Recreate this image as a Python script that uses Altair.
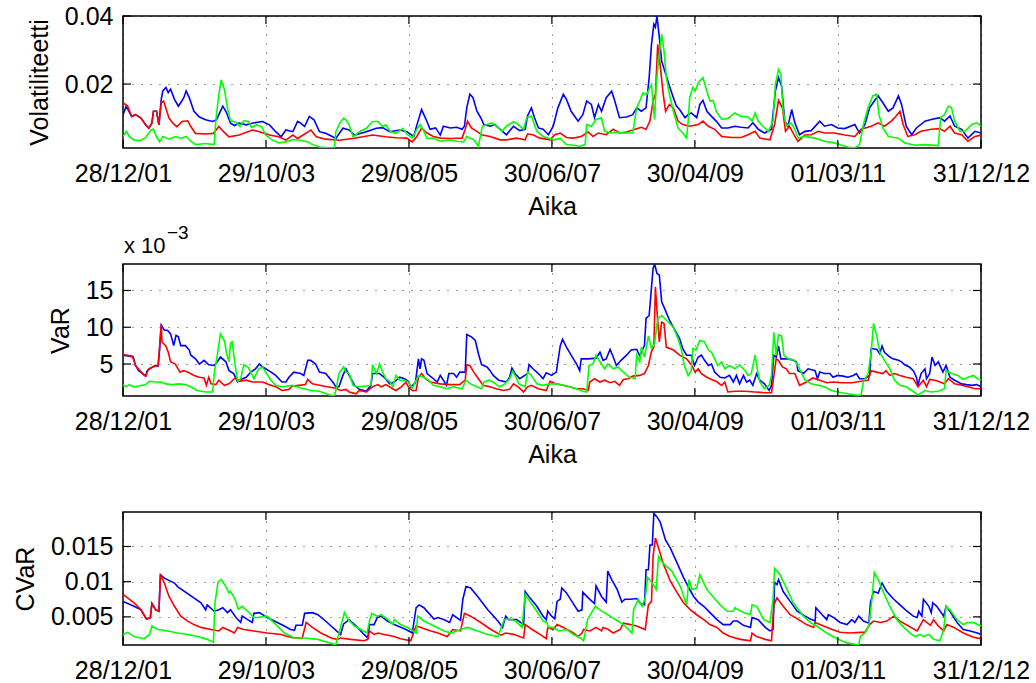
import altair as alt
import pandas as pd

FONT = "Liberation Sans"

# ---------------------------------------------------------------------------
# Series as (decimal year, value) breakpoints.
# Volatility (daily), VaR (in units of 1e-3) and CVaR for three estimators.
# ---------------------------------------------------------------------------
vol_blue = [
    (2001.99, 0.0110), (2002.03, 0.0135), (2002.10, 0.0105), (2002.15, 0.0110), (2002.22, 0.0100),
    (2002.28, 0.0080), (2002.32, 0.0070), (2002.36, 0.0085), (2002.38, 0.0120), (2002.42, 0.0120),
    (2002.45, 0.0080), (2002.48, 0.0155), (2002.50, 0.0180), (2002.54, 0.0190), (2002.57, 0.0175),
    (2002.60, 0.0185), (2002.65, 0.0155), (2002.70, 0.0135), (2002.73, 0.0145), (2002.77, 0.0160),
    (2002.80, 0.0180), (2002.84, 0.0160), (2002.90, 0.0120), (2002.97, 0.0103), (2003.05, 0.0095),
    (2003.14, 0.0090), (2003.19, 0.0095), (2003.22, 0.0110), (2003.27, 0.0135), (2003.31, 0.0120),
    (2003.37, 0.0085), (2003.42, 0.0078), (2003.48, 0.0085), (2003.57, 0.0080), (2003.65, 0.0085),
    (2003.78, 0.0090), (2003.87, 0.0080), (2003.95, 0.0060), (2004.02, 0.0045), (2004.08, 0.0065),
    (2004.17, 0.0060), (2004.23, 0.0090), (2004.27, 0.0085), (2004.32, 0.0075), (2004.38, 0.0105),
    (2004.44, 0.0095), (2004.51, 0.0060), (2004.59, 0.0055), (2004.68, 0.0045), (2004.72, 0.0040),
    (2004.81, 0.0070), (2004.89, 0.0065), (2004.96, 0.0050), (2005.11, 0.0060), (2005.24, 0.0070),
    (2005.32, 0.0072), (2005.41, 0.0060), (2005.54, 0.0065), (2005.63, 0.0060), (2005.72, 0.0046),
    (2005.76, 0.0080), (2005.82, 0.0125), (2005.87, 0.0100), (2005.93, 0.0067), (2006.00, 0.0071),
    (2006.06, 0.0050), (2006.10, 0.0076), (2006.19, 0.0071), (2006.27, 0.0073), (2006.34, 0.0067),
    (2006.37, 0.0076), (2006.40, 0.0130), (2006.44, 0.0170), (2006.48, 0.0160), (2006.53, 0.0120),
    (2006.58, 0.0101), (2006.62, 0.0081), (2006.70, 0.0076), (2006.76, 0.0081), (2006.83, 0.0067),
    (2006.91, 0.0051), (2007.00, 0.0076), (2007.08, 0.0063), (2007.15, 0.0067), (2007.18, 0.0106),
    (2007.23, 0.0130), (2007.27, 0.0101), (2007.32, 0.0071), (2007.38, 0.0067), (2007.45, 0.0051),
    (2007.51, 0.0076), (2007.57, 0.0130), (2007.64, 0.0170), (2007.68, 0.0155), (2007.74, 0.0120),
    (2007.83, 0.0091), (2007.89, 0.0110), (2007.94, 0.0150), (2008.00, 0.0140), (2008.04, 0.0101),
    (2008.09, 0.0140), (2008.13, 0.0120), (2008.19, 0.0160), (2008.26, 0.0179), (2008.30, 0.0150),
    (2008.36, 0.0101), (2008.45, 0.0103), (2008.53, 0.0110), (2008.58, 0.0130), (2008.64, 0.0120),
    (2008.70, 0.0130), (2008.74, 0.0219), (2008.77, 0.0317), (2008.80, 0.0376), (2008.82, 0.0367),
    (2008.84, 0.0400), (2008.87, 0.0337), (2008.90, 0.0268), (2008.94, 0.0238), (2009.00, 0.0194),
    (2009.05, 0.0160), (2009.09, 0.0135), (2009.13, 0.0125), (2009.20, 0.0101), (2009.24, 0.0110),
    (2009.28, 0.0115), (2009.35, 0.0101), (2009.39, 0.0140), (2009.43, 0.0152), (2009.48, 0.0120),
    (2009.54, 0.0105), (2009.60, 0.0091), (2009.67, 0.0071), (2009.75, 0.0071), (2009.84, 0.0076),
    (2009.92, 0.0073), (2010.01, 0.0071), (2010.07, 0.0086), (2010.14, 0.0067), (2010.22, 0.0056),
    (2010.31, 0.0067), (2010.36, 0.0179), (2010.40, 0.0219), (2010.44, 0.0194), (2010.48, 0.0091),
    (2010.52, 0.0076), (2010.57, 0.0125), (2010.61, 0.0086), (2010.67, 0.0051), (2010.74, 0.0061),
    (2010.82, 0.0063), (2010.93, 0.0091), (2010.99, 0.0076), (2011.08, 0.0081), (2011.16, 0.0071),
    (2011.25, 0.0069), (2011.38, 0.0081), (2011.44, 0.0056), (2011.51, 0.0081), (2011.57, 0.0130),
    (2011.63, 0.0150), (2011.68, 0.0165), (2011.74, 0.0145), (2011.81, 0.0120), (2011.87, 0.0130),
    (2011.94, 0.0165), (2011.98, 0.0140), (2012.04, 0.0076), (2012.11, 0.0051), (2012.17, 0.0071),
    (2012.28, 0.0091), (2012.36, 0.0096), (2012.47, 0.0101), (2012.53, 0.0091), (2012.60, 0.0106),
    (2012.66, 0.0076), (2012.75, 0.0067), (2012.83, 0.0041), (2012.92, 0.0061), (2013.00, 0.0056),
]

vol_red = [
    (2001.99, 0.0145), (2002.05, 0.0135), (2002.10, 0.0105), (2002.15, 0.0110), (2002.22, 0.0100),
    (2002.28, 0.0080), (2002.32, 0.0070), (2002.36, 0.0085), (2002.38, 0.0120), (2002.42, 0.0120),
    (2002.45, 0.0080), (2002.48, 0.0145), (2002.51, 0.0150), (2002.58, 0.0100), (2002.63, 0.0085),
    (2002.68, 0.0075), (2002.75, 0.0090), (2002.82, 0.0092), (2002.86, 0.0075), (2002.92, 0.0055),
    (2003.05, 0.0053), (2003.15, 0.0055), (2003.22, 0.0075), (2003.28, 0.0060), (2003.35, 0.0045),
    (2003.48, 0.0050), (2003.65, 0.0065), (2003.74, 0.0060), (2003.87, 0.0050), (2003.99, 0.0045),
    (2004.08, 0.0035), (2004.17, 0.0050), (2004.23, 0.0040), (2004.40, 0.0065), (2004.47, 0.0045),
    (2004.59, 0.0038), (2004.76, 0.0035), (2004.94, 0.0040), (2005.19, 0.0050), (2005.36, 0.0045),
    (2005.49, 0.0042), (2005.63, 0.0041), (2005.70, 0.0030), (2005.76, 0.0046), (2005.82, 0.0071),
    (2005.89, 0.0056), (2005.97, 0.0046), (2006.06, 0.0041), (2006.19, 0.0040), (2006.34, 0.0041),
    (2006.38, 0.0067), (2006.41, 0.0091), (2006.46, 0.0071), (2006.53, 0.0061), (2006.59, 0.0051),
    (2006.70, 0.0046), (2006.83, 0.0036), (2006.91, 0.0036), (2007.04, 0.0041), (2007.15, 0.0036),
    (2007.18, 0.0053), (2007.25, 0.0051), (2007.34, 0.0041), (2007.47, 0.0036), (2007.53, 0.0051),
    (2007.60, 0.0056), (2007.68, 0.0043), (2007.77, 0.0041), (2007.87, 0.0046), (2007.96, 0.0059),
    (2008.02, 0.0046), (2008.09, 0.0056), (2008.19, 0.0051), (2008.28, 0.0067), (2008.36, 0.0056),
    (2008.45, 0.0059), (2008.56, 0.0067), (2008.64, 0.0073), (2008.70, 0.0067), (2008.75, 0.0091),
    (2008.79, 0.0150), (2008.82, 0.0170), (2008.85, 0.0317), (2008.88, 0.0258), (2008.92, 0.0170),
    (2008.95, 0.0120), (2009.00, 0.0140), (2009.05, 0.0130), (2009.11, 0.0091), (2009.17, 0.0081),
    (2009.26, 0.0076), (2009.37, 0.0081), (2009.43, 0.0091), (2009.50, 0.0076), (2009.58, 0.0067),
    (2009.67, 0.0046), (2009.80, 0.0043), (2009.92, 0.0043), (2010.01, 0.0051), (2010.10, 0.0061),
    (2010.16, 0.0041), (2010.29, 0.0036), (2010.35, 0.0081), (2010.40, 0.0152), (2010.45, 0.0130),
    (2010.49, 0.0061), (2010.54, 0.0076), (2010.61, 0.0046), (2010.65, 0.0032), (2010.74, 0.0050),
    (2010.82, 0.0051), (2010.91, 0.0061), (2010.99, 0.0056), (2011.12, 0.0056), (2011.25, 0.0050),
    (2011.38, 0.0046), (2011.46, 0.0067), (2011.59, 0.0076), (2011.68, 0.0086), (2011.76, 0.0076),
    (2011.85, 0.0091), (2011.91, 0.0106), (2011.96, 0.0120), (2012.00, 0.0081), (2012.06, 0.0046),
    (2012.15, 0.0051), (2012.23, 0.0061), (2012.36, 0.0067), (2012.47, 0.0069), (2012.53, 0.0061),
    (2012.60, 0.0076), (2012.66, 0.0056), (2012.75, 0.0051), (2012.83, 0.0032), (2012.92, 0.0046),
    (2013.00, 0.0050),
]

vol_green = [
    (2001.99, 0.0046), (2002.03, 0.0061), (2002.07, 0.0046), (2002.13, 0.0035), (2002.22, 0.0035),
    (2002.28, 0.0043), (2002.35, 0.0065), (2002.38, 0.0068), (2002.42, 0.0045), (2002.46, 0.0030),
    (2002.50, 0.0046), (2002.58, 0.0038), (2002.67, 0.0046), (2002.73, 0.0040), (2002.80, 0.0046),
    (2002.86, 0.0032), (2002.92, 0.0022), (2003.05, 0.0025), (2003.16, 0.0022), (2003.18, 0.0090),
    (2003.22, 0.0170), (2003.25, 0.0212), (2003.29, 0.0185), (2003.33, 0.0130), (2003.37, 0.0092),
    (2003.44, 0.0088), (2003.49, 0.0075), (2003.54, 0.0092), (2003.60, 0.0090), (2003.64, 0.0072),
    (2003.70, 0.0080), (2003.77, 0.0075), (2003.82, 0.0050), (2003.91, 0.0035), (2003.99, 0.0027),
    (2004.08, 0.0030), (2004.17, 0.0037), (2004.27, 0.0035), (2004.36, 0.0030), (2004.42, 0.0022),
    (2004.51, 0.0015), (2004.64, 0.0012), (2004.70, 0.0012), (2004.72, 0.0060), (2004.77, 0.0085),
    (2004.82, 0.0100), (2004.85, 0.0095), (2004.89, 0.0080), (2004.94, 0.0045), (2005.02, 0.0060),
    (2005.11, 0.0070), (2005.19, 0.0090), (2005.26, 0.0090), (2005.32, 0.0075), (2005.36, 0.0080),
    (2005.42, 0.0060), (2005.49, 0.0055), (2005.58, 0.0070), (2005.63, 0.0053), (2005.70, 0.0041),
    (2005.76, 0.0067), (2005.80, 0.0081), (2005.85, 0.0061), (2005.89, 0.0040), (2005.97, 0.0041),
    (2006.06, 0.0032), (2006.19, 0.0036), (2006.27, 0.0032), (2006.36, 0.0030), (2006.40, 0.0046),
    (2006.49, 0.0036), (2006.55, 0.0017), (2006.60, 0.0076), (2006.66, 0.0081), (2006.72, 0.0086),
    (2006.78, 0.0076), (2006.85, 0.0061), (2006.91, 0.0076), (2007.00, 0.0089), (2007.06, 0.0081),
    (2007.13, 0.0067), (2007.17, 0.0101), (2007.23, 0.0106), (2007.30, 0.0061), (2007.38, 0.0046),
    (2007.51, 0.0036), (2007.60, 0.0040), (2007.68, 0.0022), (2007.77, 0.0020), (2007.85, 0.0017),
    (2007.92, 0.0022), (2007.94, 0.0081), (2008.00, 0.0076), (2008.06, 0.0096), (2008.13, 0.0101),
    (2008.17, 0.0061), (2008.24, 0.0056), (2008.34, 0.0059), (2008.41, 0.0056), (2008.53, 0.0056),
    (2008.58, 0.0130), (2008.62, 0.0150), (2008.66, 0.0174), (2008.71, 0.0170), (2008.77, 0.0199),
    (2008.80, 0.0120), (2008.81, 0.0096), (2008.83, 0.0199), (2008.87, 0.0288), (2008.90, 0.0347),
    (2008.93, 0.0298), (2008.96, 0.0219), (2009.00, 0.0170), (2009.05, 0.0120), (2009.11, 0.0071),
    (2009.17, 0.0056), (2009.22, 0.0041), (2009.24, 0.0091), (2009.26, 0.0160), (2009.30, 0.0190),
    (2009.33, 0.0179), (2009.37, 0.0204), (2009.43, 0.0219), (2009.48, 0.0179), (2009.52, 0.0150),
    (2009.56, 0.0152), (2009.60, 0.0120), (2009.67, 0.0096), (2009.75, 0.0099), (2009.84, 0.0115),
    (2009.92, 0.0105), (2010.01, 0.0103), (2010.06, 0.0091), (2010.10, 0.0115), (2010.14, 0.0091),
    (2010.20, 0.0076), (2010.27, 0.0061), (2010.33, 0.0091), (2010.36, 0.0199), (2010.40, 0.0243),
    (2010.43, 0.0229), (2010.46, 0.0120), (2010.50, 0.0076), (2010.56, 0.0086), (2010.61, 0.0067),
    (2010.65, 0.0041), (2010.74, 0.0046), (2010.87, 0.0041), (2010.99, 0.0032), (2011.12, 0.0027),
    (2011.21, 0.0020), (2011.29, 0.0015), (2011.38, 0.0012), (2011.44, 0.0022), (2011.49, 0.0081),
    (2011.55, 0.0130), (2011.61, 0.0165), (2011.66, 0.0170), (2011.69, 0.0110), (2011.74, 0.0071),
    (2011.81, 0.0046), (2011.94, 0.0041), (2012.02, 0.0027), (2012.15, 0.0020), (2012.28, 0.0022),
    (2012.45, 0.0019), (2012.48, 0.0101), (2012.53, 0.0110), (2012.58, 0.0135), (2012.62, 0.0130),
    (2012.66, 0.0091), (2012.73, 0.0061), (2012.79, 0.0061), (2012.88, 0.0081), (2012.94, 0.0086),
    (2013.00, 0.0076),
]

# VaR values are given in units of 10^-3
var_blue = [
    (2001.99, 6.2), (2002.07, 6.05), (2002.12, 5.95), (2002.15, 4.8), (2002.19, 4.1), (2002.24, 3.7),
    (2002.28, 3.35), (2002.30, 4.1), (2002.37, 4.6), (2002.41, 4.8), (2002.44, 4.7), (2002.46, 7.1),
    (2002.48, 10.3), (2002.52, 9.6), (2002.56, 9.6), (2002.60, 9.1), (2002.64, 7.5), (2002.67, 8.9),
    (2002.70, 8.7), (2002.73, 7.5), (2002.79, 7.5), (2002.84, 6.9), (2002.86, 6.2), (2002.92, 5.7),
    (2002.97, 5.0), (2003.03, 5.5), (2003.09, 4.9), (2003.16, 4.8), (2003.20, 5.3), (2003.24, 5.95),
    (2003.31, 5.3), (2003.35, 4.1), (2003.41, 3.7), (2003.46, 2.55), (2003.50, 2.9), (2003.57, 3.2),
    (2003.63, 3.9), (2003.69, 4.35), (2003.74, 5.0), (2003.78, 4.6), (2003.82, 4.35), (2003.89, 3.9),
    (2003.95, 3.45), (2004.03, 2.55), (2004.08, 2.55), (2004.12, 3.2), (2004.18, 3.9), (2004.27, 3.7),
    (2004.31, 3.45), (2004.36, 5.5), (2004.40, 5.5), (2004.46, 5.0), (2004.51, 3.9), (2004.59, 3.7),
    (2004.68, 2.55), (2004.72, 1.9), (2004.76, 1.9), (2004.81, 3.45), (2004.85, 4.35), (2004.89, 3.45),
    (2004.96, 2.1), (2005.02, 1.55), (2005.11, 1.3), (2005.17, 2.1), (2005.19, 3.7), (2005.28, 3.7),
    (2005.34, 3.2), (2005.41, 2.3), (2005.47, 2.55), (2005.54, 3.2), (2005.60, 3.0), (2005.65, 2.65),
    (2005.68, 1.9), (2005.74, 2.45), (2005.78, 5.7), (2005.80, 4.35), (2005.82, 5.7), (2005.85, 5.5),
    (2005.89, 3.7), (2005.95, 3.2), (2006.02, 2.55), (2006.06, 3.45), (2006.10, 2.8), (2006.14, 2.1),
    (2006.17, 3.7), (2006.23, 3.7), (2006.27, 3.2), (2006.31, 3.9), (2006.38, 3.9), (2006.40, 9.0),
    (2006.46, 8.7), (2006.51, 8.2), (2006.55, 6.4), (2006.59, 4.9), (2006.66, 4.6), (2006.70, 4.1),
    (2006.74, 3.45), (2006.81, 2.8), (2006.91, 2.55), (2006.95, 3.2), (2006.98, 4.45), (2007.02, 3.7),
    (2007.08, 3.0), (2007.18, 3.7), (2007.20, 4.9), (2007.25, 4.35), (2007.32, 3.7), (2007.38, 3.0),
    (2007.42, 3.8), (2007.49, 3.45), (2007.55, 3.9), (2007.60, 7.45), (2007.63, 8.35), (2007.68, 7.3),
    (2007.74, 6.2), (2007.81, 5.0), (2007.85, 4.1), (2007.87, 5.7), (2007.96, 5.7), (2008.06, 5.8),
    (2008.11, 6.6), (2008.15, 5.5), (2008.19, 5.7), (2008.24, 7.0), (2008.28, 5.95), (2008.32, 4.8),
    (2008.38, 5.5), (2008.45, 6.2), (2008.51, 6.9), (2008.58, 7.0), (2008.62, 6.1), (2008.68, 7.55),
    (2008.70, 11.2), (2008.74, 11.6), (2008.79, 18.0), (2008.81, 18.6), (2008.84, 17.3), (2008.87, 17.1),
    (2008.90, 13.45), (2008.94, 12.5), (2009.00, 10.95), (2009.07, 9.6), (2009.13, 8.45), (2009.17, 7.1),
    (2009.22, 6.2), (2009.28, 6.2), (2009.32, 4.8), (2009.37, 5.95), (2009.41, 6.2), (2009.45, 5.5),
    (2009.50, 4.8), (2009.54, 5.0), (2009.58, 3.9), (2009.65, 3.2), (2009.71, 3.1), (2009.77, 3.45),
    (2009.82, 2.55), (2009.86, 3.45), (2009.90, 2.3), (2009.95, 3.45), (2009.99, 2.55), (2010.03, 2.8),
    (2010.07, 2.1), (2010.12, 3.7), (2010.16, 2.8), (2010.22, 2.3), (2010.28, 1.4), (2010.31, 2.1),
    (2010.34, 6.2), (2010.37, 5.95), (2010.40, 7.45), (2010.43, 5.7), (2010.50, 5.7), (2010.57, 5.6),
    (2010.63, 5.3), (2010.65, 4.1), (2010.72, 3.7), (2010.78, 4.35), (2010.87, 4.1), (2010.90, 3.0),
    (2010.93, 3.9), (2010.99, 3.7), (2011.06, 3.7), (2011.10, 3.2), (2011.16, 3.45), (2011.23, 3.35),
    (2011.29, 3.2), (2011.36, 3.45), (2011.40, 3.7), (2011.44, 3.0), (2011.51, 3.0), (2011.57, 3.45),
    (2011.59, 7.1), (2011.66, 7.0), (2011.70, 6.4), (2011.73, 7.45), (2011.76, 6.6), (2011.83, 5.95),
    (2011.87, 5.7), (2011.94, 5.5), (2011.98, 5.3), (2012.02, 4.9), (2012.08, 4.6), (2012.13, 4.1),
    (2012.17, 3.2), (2012.19, 2.1), (2012.23, 3.7), (2012.28, 4.35), (2012.30, 3.0), (2012.34, 3.7),
    (2012.37, 5.95), (2012.41, 4.8), (2012.45, 5.3), (2012.51, 3.9), (2012.55, 4.8), (2012.60, 3.2),
    (2012.66, 2.8), (2012.75, 2.3), (2012.81, 2.2), (2012.88, 2.1), (2012.94, 2.2), (2013.00, 1.9),
]

var_red = [
    (2001.99, 6.3), (2002.11, 6.05), (2002.15, 4.8), (2002.24, 3.7), (2002.28, 3.35), (2002.32, 4.35),
    (2002.37, 4.6), (2002.44, 4.8), (2002.46, 7.5), (2002.48, 10.4), (2002.49, 8.0), (2002.54, 7.45),
    (2002.57, 6.6), (2002.60, 5.3), (2002.66, 5.0), (2002.72, 3.9), (2002.77, 4.1), (2002.84, 3.8),
    (2002.90, 3.45), (2002.97, 3.2), (2003.03, 3.1), (2003.06, 2.1), (2003.09, 3.2), (2003.12, 2.3),
    (2003.18, 2.2), (2003.22, 2.8), (2003.29, 2.1), (2003.35, 2.3), (2003.44, 3.2), (2003.48, 2.65),
    (2003.57, 2.8), (2003.65, 2.55), (2003.78, 2.55), (2003.86, 2.2), (2003.95, 1.9), (2004.03, 1.4),
    (2004.12, 1.55), (2004.16, 2.0), (2004.25, 2.1), (2004.33, 2.2), (2004.36, 2.9), (2004.42, 2.3),
    (2004.51, 2.1), (2004.61, 1.9), (2004.72, 1.7), (2004.78, 1.4), (2004.85, 1.55), (2004.89, 1.2),
    (2004.98, 0.95), (2005.02, 1.4), (2005.11, 1.2), (2005.19, 1.9), (2005.26, 2.2), (2005.30, 1.9),
    (2005.36, 2.2), (2005.45, 1.64), (2005.49, 1.4), (2005.56, 1.9), (2005.62, 2.55), (2005.65, 1.9),
    (2005.70, 1.4), (2005.75, 1.4), (2005.78, 3.2), (2005.82, 3.7), (2005.87, 3.0), (2005.93, 2.55),
    (2006.06, 2.3), (2006.19, 2.2), (2006.31, 2.2), (2006.38, 2.8), (2006.40, 4.9), (2006.44, 4.8),
    (2006.49, 3.9), (2006.55, 3.0), (2006.61, 2.1), (2006.70, 1.9), (2006.78, 1.64), (2006.87, 1.4),
    (2006.95, 1.55), (2007.00, 2.3), (2007.06, 1.9), (2007.13, 1.2), (2007.18, 1.9), (2007.23, 2.1),
    (2007.32, 1.64), (2007.42, 1.4), (2007.47, 2.65), (2007.55, 2.3), (2007.64, 2.1), (2007.72, 1.9),
    (2007.81, 1.64), (2007.89, 1.64), (2007.96, 1.4), (2007.98, 2.55), (2008.04, 3.0), (2008.11, 2.55),
    (2008.17, 2.8), (2008.24, 2.45), (2008.30, 2.65), (2008.36, 2.1), (2008.41, 2.9), (2008.47, 3.0),
    (2008.53, 3.35), (2008.62, 3.45), (2008.68, 3.7), (2008.73, 4.8), (2008.77, 6.7), (2008.80, 7.3),
    (2008.82, 15.5), (2008.84, 12.3), (2008.87, 8.0), (2008.90, 10.7), (2008.93, 10.5), (2008.96, 7.3),
    (2009.05, 6.9), (2009.13, 6.2), (2009.22, 5.7), (2009.28, 4.9), (2009.33, 3.9), (2009.37, 4.35),
    (2009.41, 3.7), (2009.48, 3.2), (2009.54, 2.9), (2009.60, 2.65), (2009.67, 2.1), (2009.71, 2.55),
    (2009.75, 1.2), (2009.84, 1.3), (2009.97, 1.3), (2010.10, 1.2), (2010.22, 1.1), (2010.31, 1.1),
    (2010.33, 2.55), (2010.37, 5.7), (2010.40, 5.5), (2010.45, 4.6), (2010.50, 4.35), (2010.54, 3.7),
    (2010.61, 3.7), (2010.67, 2.1), (2010.76, 2.55), (2010.84, 3.1), (2010.93, 2.8), (2011.02, 2.45),
    (2011.10, 2.55), (2011.21, 2.45), (2011.34, 2.45), (2011.46, 2.65), (2011.55, 2.8), (2011.59, 4.1),
    (2011.66, 3.9), (2011.74, 3.7), (2011.78, 4.1), (2011.83, 3.45), (2011.89, 3.7), (2011.96, 3.45),
    (2012.04, 3.2), (2012.13, 3.0), (2012.19, 1.9), (2012.26, 2.8), (2012.30, 1.9), (2012.34, 2.9),
    (2012.41, 2.8), (2012.47, 2.55), (2012.53, 2.3), (2012.58, 3.0), (2012.66, 2.3), (2012.75, 2.1),
    (2012.83, 1.9), (2012.92, 1.64), (2013.00, 1.64),
]

var_green = [
    (2001.99, 2.2), (2002.03, 1.9), (2002.07, 2.2), (2002.13, 1.9), (2002.19, 2.0), (2002.28, 2.2),
    (2002.33, 2.65), (2002.41, 2.55), (2002.47, 2.55), (2002.54, 2.3), (2002.62, 2.2), (2002.71, 2.3),
    (2002.79, 2.2), (2002.86, 1.9), (2002.94, 1.4), (2003.05, 1.2), (2003.14, 1.2), (2003.16, 3.7),
    (2003.20, 6.2), (2003.24, 9.1), (2003.29, 8.2), (2003.32, 6.4), (2003.35, 5.3), (2003.37, 7.8),
    (2003.39, 8.0), (2003.43, 4.8), (2003.46, 2.65), (2003.50, 3.0), (2003.54, 4.9), (2003.59, 4.6),
    (2003.63, 3.9), (2003.67, 3.0), (2003.73, 4.35), (2003.78, 4.6), (2003.82, 3.9), (2003.89, 2.8),
    (2003.95, 2.1), (2004.03, 1.9), (2004.16, 2.1), (2004.29, 1.7), (2004.40, 1.4), (2004.51, 1.3),
    (2004.64, 0.8), (2004.70, 0.65), (2004.72, 1.4), (2004.76, 3.7), (2004.82, 4.6), (2004.85, 3.9),
    (2004.89, 3.7), (2004.94, 2.1), (2005.00, 1.9), (2005.11, 2.0), (2005.17, 2.1), (2005.19, 4.9),
    (2005.24, 3.7), (2005.28, 5.0), (2005.32, 3.9), (2005.36, 3.0), (2005.41, 2.65), (2005.45, 1.9),
    (2005.49, 3.45), (2005.54, 2.8), (2005.60, 2.8), (2005.65, 2.55), (2005.70, 1.7), (2005.75, 2.8),
    (2005.78, 3.45), (2005.85, 3.2), (2005.91, 2.8), (2005.97, 2.1), (2006.06, 1.9), (2006.14, 1.64),
    (2006.23, 1.9), (2006.34, 1.64), (2006.39, 2.8), (2006.45, 2.3), (2006.53, 1.9), (2006.59, 1.64),
    (2006.62, 2.55), (2006.68, 2.8), (2006.74, 2.55), (2006.82, 1.9), (2006.89, 2.3), (2006.95, 3.0),
    (2006.99, 4.0), (2007.02, 3.45), (2007.07, 2.3), (2007.15, 1.9), (2007.18, 3.9), (2007.23, 3.45),
    (2007.30, 2.3), (2007.38, 2.1), (2007.47, 2.3), (2007.55, 2.3), (2007.64, 2.1), (2007.72, 1.9),
    (2007.81, 1.64), (2007.89, 1.3), (2007.94, 1.2), (2007.97, 4.8), (2008.02, 5.0), (2008.06, 6.2),
    (2008.11, 5.3), (2008.17, 4.35), (2008.21, 5.0), (2008.28, 4.35), (2008.34, 4.6), (2008.41, 3.9),
    (2008.49, 3.2), (2008.56, 3.0), (2008.58, 6.2), (2008.62, 5.3), (2008.64, 7.3), (2008.68, 5.95),
    (2008.73, 8.8), (2008.77, 7.1), (2008.81, 7.8), (2008.85, 11.2), (2008.90, 11.6), (2008.96, 10.95),
    (2009.05, 10.0), (2009.11, 8.45), (2009.15, 7.1), (2009.19, 4.8), (2009.24, 3.45), (2009.28, 4.1),
    (2009.30, 7.1), (2009.34, 6.9), (2009.39, 8.2), (2009.45, 8.0), (2009.50, 6.9), (2009.54, 6.6),
    (2009.58, 5.7), (2009.62, 4.8), (2009.67, 5.3), (2009.71, 4.35), (2009.77, 4.8), (2009.84, 4.35),
    (2009.90, 4.9), (2009.97, 4.1), (2010.01, 3.45), (2010.05, 3.7), (2010.10, 6.2), (2010.12, 4.8),
    (2010.16, 2.55), (2010.22, 1.64), (2010.28, 2.1), (2010.31, 3.45), (2010.34, 9.3), (2010.37, 6.2),
    (2010.40, 9.0), (2010.44, 8.8), (2010.47, 6.2), (2010.52, 5.7), (2010.61, 5.5), (2010.67, 4.35),
    (2010.74, 2.8), (2010.82, 2.3), (2010.91, 2.1), (2010.99, 1.9), (2011.08, 1.4), (2011.16, 1.2),
    (2011.29, 0.95), (2011.42, 0.73), (2011.46, 0.8), (2011.49, 2.55), (2011.55, 3.7), (2011.59, 6.6),
    (2011.62, 10.5), (2011.66, 8.9), (2011.70, 6.6), (2011.76, 5.5), (2011.83, 4.35), (2011.89, 2.8),
    (2011.96, 2.1), (2012.04, 1.9), (2012.11, 1.4), (2012.19, 0.8), (2012.28, 1.4), (2012.36, 1.2),
    (2012.45, 1.3), (2012.53, 1.64), (2012.55, 4.1), (2012.62, 3.7), (2012.70, 3.45), (2012.77, 2.9),
    (2012.83, 3.2), (2012.90, 3.45), (2012.95, 3.0), (2013.00, 2.85),
]

cvar_blue = [
    (2001.99, 0.0072), (2002.13, 0.0065), (2002.22, 0.0060), (2002.29, 0.0047), (2002.34, 0.0049),
    (2002.36, 0.0069), (2002.41, 0.0060), (2002.45, 0.0058), (2002.47, 0.0110), (2002.52, 0.0105),
    (2002.65, 0.0098), (2002.69, 0.0093), (2002.99, 0.0070), (2003.05, 0.0060), (2003.07, 0.0067),
    (2003.16, 0.0058), (2003.22, 0.0060), (2003.27, 0.0063), (2003.33, 0.0056), (2003.37, 0.0060),
    (2003.44, 0.0049), (2003.50, 0.0042), (2003.52, 0.0051), (2003.59, 0.0046), (2003.65, 0.0042),
    (2003.67, 0.0055), (2003.74, 0.0056), (2003.84, 0.0049), (2003.97, 0.0042), (2004.06, 0.0037),
    (2004.14, 0.0032), (2004.19, 0.0031), (2004.21, 0.0038), (2004.29, 0.0038), (2004.32, 0.0055),
    (2004.42, 0.0056), (2004.49, 0.0053), (2004.61, 0.0042), (2004.76, 0.0027), (2004.78, 0.0025),
    (2004.82, 0.0040), (2004.89, 0.0046), (2004.98, 0.0037), (2005.08, 0.0025), (2005.13, 0.0020),
    (2005.15, 0.0039), (2005.21, 0.0039), (2005.25, 0.0049), (2005.30, 0.0051), (2005.38, 0.0044),
    (2005.49, 0.0038), (2005.62, 0.0032), (2005.70, 0.0027), (2005.75, 0.0063), (2005.79, 0.0067),
    (2005.85, 0.0063), (2005.98, 0.0047), (2006.03, 0.0049), (2006.11, 0.0046), (2006.18, 0.0042),
    (2006.22, 0.0053), (2006.32, 0.0045), (2006.35, 0.0075), (2006.39, 0.0093), (2006.45, 0.0091),
    (2006.54, 0.0079), (2006.67, 0.0060), (2006.80, 0.0044), (2006.86, 0.0035), (2006.90, 0.0051),
    (2006.94, 0.0046), (2007.04, 0.0046), (2007.13, 0.0039), (2007.15, 0.0086), (2007.21, 0.0077),
    (2007.30, 0.0065), (2007.38, 0.0051), (2007.42, 0.0046), (2007.44, 0.0058), (2007.49, 0.0051),
    (2007.53, 0.0047), (2007.56, 0.0072), (2007.60, 0.0075), (2007.62, 0.0091), (2007.68, 0.0084),
    (2007.75, 0.0072), (2007.83, 0.0058), (2007.88, 0.0060), (2007.89, 0.0085), (2007.96, 0.0077),
    (2008.04, 0.0069), (2008.06, 0.0094), (2008.13, 0.0079), (2008.19, 0.0071), (2008.21, 0.0115),
    (2008.26, 0.0103), (2008.33, 0.0089), (2008.39, 0.0071), (2008.43, 0.0075), (2008.50, 0.0075),
    (2008.58, 0.0076), (2008.63, 0.0069), (2008.68, 0.0067), (2008.70, 0.0117), (2008.73, 0.0117),
    (2008.75, 0.0152), (2008.78, 0.0152), (2008.80, 0.0197), (2008.84, 0.0192), (2008.88, 0.0185),
    (2008.95, 0.0159), (2009.01, 0.0148), (2009.10, 0.0126), (2009.18, 0.0106), (2009.25, 0.0091),
    (2009.31, 0.0079), (2009.37, 0.0071), (2009.44, 0.0065), (2009.52, 0.0056), (2009.61, 0.0046),
    (2009.69, 0.0039), (2009.78, 0.0039), (2009.82, 0.0044), (2009.87, 0.0044), (2009.95, 0.0038),
    (2010.04, 0.0035), (2010.06, 0.0049), (2010.14, 0.0046), (2010.23, 0.0035), (2010.29, 0.0030),
    (2010.33, 0.0032), (2010.35, 0.0099), (2010.38, 0.0096), (2010.40, 0.0103), (2010.46, 0.0086),
    (2010.55, 0.0072), (2010.64, 0.0058), (2010.74, 0.0051), (2010.81, 0.0047), (2010.87, 0.0044),
    (2010.88, 0.0063), (2010.96, 0.0053), (2011.02, 0.0046), (2011.04, 0.0053), (2011.11, 0.0049),
    (2011.19, 0.0042), (2011.28, 0.0039), (2011.34, 0.0046), (2011.38, 0.0042), (2011.43, 0.0051),
    (2011.49, 0.0044), (2011.56, 0.0041), (2011.58, 0.0070), (2011.62, 0.0086), (2011.68, 0.0084),
    (2011.73, 0.0098), (2011.79, 0.0086), (2011.88, 0.0075), (2011.96, 0.0067), (2012.05, 0.0058),
    (2012.13, 0.0051), (2012.18, 0.0049), (2012.20, 0.0058), (2012.24, 0.0051), (2012.26, 0.0075),
    (2012.33, 0.0065), (2012.36, 0.0056), (2012.38, 0.0070), (2012.43, 0.0065), (2012.52, 0.0051),
    (2012.55, 0.0065), (2012.60, 0.0058), (2012.69, 0.0042), (2012.77, 0.0032), (2012.86, 0.0030),
    (2012.95, 0.0027), (2013.00, 0.0025),
]

cvar_red = [
    (2001.99, 0.0082), (2002.13, 0.0070), (2002.22, 0.0060), (2002.29, 0.0047), (2002.34, 0.0049),
    (2002.36, 0.0069), (2002.41, 0.0060), (2002.45, 0.0058), (2002.47, 0.0110), (2002.52, 0.0098),
    (2002.58, 0.0079), (2002.65, 0.0065), (2002.73, 0.0051), (2002.82, 0.0044), (2002.90, 0.0039),
    (2002.99, 0.0035), (2003.12, 0.0032), (2003.22, 0.0030), (2003.27, 0.0035), (2003.37, 0.0030),
    (2003.42, 0.0027), (2003.46, 0.0035), (2003.54, 0.0032), (2003.67, 0.0030), (2003.84, 0.0027),
    (2004.02, 0.0025), (2004.10, 0.0022), (2004.19, 0.0020), (2004.29, 0.0020), (2004.34, 0.0042),
    (2004.42, 0.0035), (2004.53, 0.0027), (2004.66, 0.0020), (2004.74, 0.0018), (2004.78, 0.0020),
    (2004.91, 0.0018), (2005.08, 0.0016), (2005.13, 0.0018), (2005.15, 0.0030), (2005.21, 0.0025),
    (2005.26, 0.0027), (2005.34, 0.0025), (2005.47, 0.0022), (2005.55, 0.0019), (2005.68, 0.0016),
    (2005.75, 0.0037), (2005.81, 0.0035), (2005.94, 0.0030), (2006.03, 0.0027), (2006.15, 0.0022),
    (2006.22, 0.0032), (2006.32, 0.0030), (2006.37, 0.0055), (2006.45, 0.0051), (2006.58, 0.0042),
    (2006.71, 0.0032), (2006.84, 0.0024), (2006.90, 0.0027), (2007.01, 0.0025), (2007.13, 0.0020),
    (2007.15, 0.0039), (2007.24, 0.0032), (2007.34, 0.0025), (2007.42, 0.0019), (2007.44, 0.0035),
    (2007.51, 0.0032), (2007.56, 0.0039), (2007.64, 0.0035), (2007.77, 0.0027), (2007.83, 0.0022),
    (2007.88, 0.0027), (2007.90, 0.0032), (2007.98, 0.0030), (2008.06, 0.0035), (2008.13, 0.0030),
    (2008.15, 0.0035), (2008.22, 0.0032), (2008.28, 0.0027), (2008.37, 0.0032), (2008.41, 0.0041),
    (2008.50, 0.0039), (2008.58, 0.0037), (2008.69, 0.0032), (2008.73, 0.0067), (2008.77, 0.0072),
    (2008.79, 0.0136), (2008.82, 0.0162), (2008.86, 0.0148), (2008.92, 0.0126), (2009.01, 0.0101),
    (2009.10, 0.0084), (2009.18, 0.0070), (2009.27, 0.0060), (2009.35, 0.0053), (2009.44, 0.0046),
    (2009.52, 0.0039), (2009.61, 0.0035), (2009.69, 0.0027), (2009.78, 0.0022), (2009.91, 0.0018),
    (2010.04, 0.0016), (2010.06, 0.0027), (2010.12, 0.0022), (2010.23, 0.0018), (2010.31, 0.0016),
    (2010.34, 0.0067), (2010.38, 0.0077), (2010.46, 0.0065), (2010.55, 0.0053), (2010.66, 0.0046),
    (2010.76, 0.0039), (2010.85, 0.0035), (2010.87, 0.0042), (2010.98, 0.0037), (2011.09, 0.0032),
    (2011.19, 0.0028), (2011.32, 0.0027), (2011.45, 0.0028), (2011.51, 0.0028), (2011.57, 0.0039),
    (2011.62, 0.0044), (2011.71, 0.0042), (2011.79, 0.0044), (2011.88, 0.0051), (2011.96, 0.0044),
    (2012.07, 0.0037), (2012.18, 0.0030), (2012.26, 0.0046), (2012.35, 0.0038), (2012.39, 0.0046),
    (2012.45, 0.0037), (2012.52, 0.0030), (2012.56, 0.0039), (2012.65, 0.0035), (2012.77, 0.0027),
    (2012.90, 0.0021), (2013.00, 0.0019),
]

cvar_green = [
    (2001.99, 0.0025), (2002.05, 0.0028), (2002.13, 0.0022), (2002.26, 0.0019), (2002.33, 0.0025),
    (2002.36, 0.0037), (2002.44, 0.0032), (2002.56, 0.0030), (2002.69, 0.0027), (2002.82, 0.0025),
    (2002.95, 0.0022), (2003.07, 0.0018), (2003.15, 0.0014), (2003.17, 0.0070), (2003.21, 0.0100),
    (2003.25, 0.0103), (2003.31, 0.0093), (2003.35, 0.0084), (2003.37, 0.0086), (2003.42, 0.0077),
    (2003.47, 0.0061), (2003.52, 0.0065), (2003.59, 0.0058), (2003.67, 0.0049), (2003.72, 0.0049),
    (2003.84, 0.0051), (2003.97, 0.0037), (2004.06, 0.0027), (2004.19, 0.0020), (2004.31, 0.0020),
    (2004.49, 0.0018), (2004.70, 0.0011), (2004.72, 0.0011), (2004.76, 0.0027), (2004.83, 0.0056),
    (2004.87, 0.0047), (2004.96, 0.0037), (2005.04, 0.0032), (2005.12, 0.0027), (2005.15, 0.0044),
    (2005.18, 0.0055), (2005.25, 0.0051), (2005.30, 0.0053), (2005.38, 0.0047), (2005.45, 0.0039),
    (2005.47, 0.0046), (2005.55, 0.0039), (2005.64, 0.0035), (2005.75, 0.0027), (2005.77, 0.0051),
    (2005.85, 0.0044), (2005.98, 0.0037), (2006.11, 0.0030), (2006.20, 0.0027), (2006.32, 0.0032),
    (2006.41, 0.0035), (2006.54, 0.0030), (2006.67, 0.0025), (2006.80, 0.0022), (2006.88, 0.0046),
    (2006.94, 0.0047), (2007.03, 0.0044), (2007.11, 0.0035), (2007.15, 0.0082), (2007.21, 0.0072),
    (2007.30, 0.0058), (2007.38, 0.0044), (2007.43, 0.0042), (2007.45, 0.0035), (2007.51, 0.0035),
    (2007.58, 0.0030), (2007.68, 0.0032), (2007.77, 0.0025), (2007.86, 0.0020), (2007.90, 0.0016),
    (2007.95, 0.0046), (2008.05, 0.0065), (2008.11, 0.0060), (2008.24, 0.0051), (2008.37, 0.0042),
    (2008.45, 0.0035), (2008.52, 0.0027), (2008.54, 0.0060), (2008.60, 0.0075), (2008.65, 0.0065),
    (2008.69, 0.0077), (2008.72, 0.0106), (2008.78, 0.0098), (2008.83, 0.0089), (2008.86, 0.0136),
    (2008.92, 0.0126), (2009.03, 0.0115), (2009.14, 0.0093), (2009.22, 0.0067), (2009.25, 0.0103),
    (2009.29, 0.0089), (2009.35, 0.0091), (2009.39, 0.0110), (2009.48, 0.0089), (2009.57, 0.0077),
    (2009.65, 0.0067), (2009.74, 0.0058), (2009.82, 0.0058), (2009.84, 0.0063), (2009.95, 0.0056),
    (2010.04, 0.0053), (2010.06, 0.0067), (2010.12, 0.0065), (2010.21, 0.0046), (2010.29, 0.0042),
    (2010.33, 0.0075), (2010.35, 0.0119), (2010.42, 0.0110), (2010.51, 0.0089), (2010.59, 0.0070),
    (2010.72, 0.0051), (2010.81, 0.0042), (2010.89, 0.0037), (2011.02, 0.0027), (2011.15, 0.0019),
    (2011.28, 0.0013), (2011.43, 0.0010), (2011.45, 0.0022), (2011.51, 0.0027), (2011.56, 0.0037),
    (2011.60, 0.0075), (2011.63, 0.0113), (2011.68, 0.0103), (2011.75, 0.0084), (2011.83, 0.0065),
    (2011.92, 0.0046), (2012.01, 0.0035), (2012.09, 0.0027), (2012.15, 0.0022), (2012.22, 0.0025),
    (2012.26, 0.0022), (2012.33, 0.0025), (2012.39, 0.0018), (2012.47, 0.0016), (2012.52, 0.0032),
    (2012.55, 0.0065), (2012.60, 0.0060), (2012.69, 0.0046), (2012.77, 0.0039), (2012.82, 0.0042),
    (2012.90, 0.0042), (2013.00, 0.0037),
]

# Date ticks on the shared time axis
tick_dates = ["2001-12-28", "2003-10-29", "2005-08-29", "2007-06-30",
              "2009-04-30", "2011-03-01", "2012-12-31"]
vol_ticks = [0.02, 0.04]
var_ticks = [5, 10, 15]
cvar_ticks = [0.005, 0.01, 0.015]

BLUE, RED, GREEN = "#0000ff", "#ff0000", "#00ff00"
W = 858


def year_to_ts(y):
    yr = int(y)
    start = pd.Timestamp(year=yr, month=1, day=1)
    nxt = pd.Timestamp(year=yr + 1, month=1, day=1)
    return start + (nxt - start) * (y - yr)


def frame(points):
    return pd.DataFrame({"date": [year_to_ts(t) for t, _ in points],
                         "value": [v for _, v in points]})


def dt(s):
    t = pd.Timestamp(s)
    return alt.DateTime(year=t.year, month=t.month, date=t.day)


X_DOMAIN = [dt(tick_dates[0]), dt(tick_dates[-1])]
X_VALUES = [dt(s) for s in tick_dates]
tick_df = pd.DataFrame({"date": pd.to_datetime(tick_dates)})

GRID = dict(grid=True, gridColor="#000000", gridOpacity=0.75, gridDash=[1, 8], gridWidth=1)
LABELS = dict(labelFont=FONT, labelFontSize=25, labelColor="#000000", labelOverlap=False,
              ticks=False, tickSize=0, domain=False)


def panel(series, ydomain, yticks, ytitle, height, xtitle=None, extra=()):
    x_axis = alt.Axis(values=X_VALUES, format="%d/%m/%y", labelFlush=False, labelPadding=13,
                      title=xtitle, titleFont=FONT, titleFontSize=25, titleFontWeight="normal",
                      titleColor="#000000", titlePadding=8, **GRID, **LABELS)
    y_axis = alt.Axis(values=yticks, format="~g", labelPadding=10, labelFlush=False,
                      title=ytitle, titleFont=FONT, titleFontSize=25, titleFontWeight="normal",
                      titleColor="#000000", titlePadding=12, **GRID, **LABELS)
    x = alt.X("date:T", scale=alt.Scale(domain=X_DOMAIN), axis=x_axis)
    y = alt.Y("value:Q", scale=alt.Scale(domain=ydomain, nice=False, zero=False), axis=y_axis)

    layers = [
        alt.Chart(frame(pts)).mark_line(color=col, strokeWidth=1.6, clip=True).encode(x=x, y=y)
        for pts, col in series
    ]

    # inward tick marks on all four sides of the box
    tick = alt.Chart(tick_df).mark_rule(color="black", strokeWidth=1.2)
    layers.append(tick.encode(x=x, y=alt.value(height), y2=alt.value(height - 8)))
    layers.append(tick.encode(x=x, y=alt.value(0), y2=alt.value(8)))
    ytick = alt.Chart(pd.DataFrame({"value": yticks})).mark_rule(color="black", strokeWidth=1.2)
    layers.append(ytick.encode(y=y, x=alt.value(0), x2=alt.value(8)))
    layers.append(ytick.encode(y=y, x=alt.value(W), x2=alt.value(W - 8)))

    layers.extend(extra)
    return alt.layer(*layers).properties(width=W, height=height)


exponent = [
    alt.Chart(pd.DataFrame({"t": ["x 10"]})).mark_text(
        align="left", baseline="alphabetic", font=FONT, fontSize=22, color="black"
    ).encode(text="t:N", x=alt.value(1), y=alt.value(-11)),
    alt.Chart(pd.DataFrame({"t": ["\u22123"]})).mark_text(
        align="left", baseline="alphabetic", font=FONT, fontSize=19, color="black"
    ).encode(text="t:N", x=alt.value(44), y=alt.value(-25)),
]

p1 = panel([(vol_blue, BLUE), (vol_red, RED), (vol_green, GREEN)],
           [0.0012, 0.0400], vol_ticks, "Volatiliteetti", 132, xtitle="Aika")
p2 = panel([(var_blue, BLUE), (var_red, RED), (var_green, GREEN)],
           [0.65, 18.6], var_ticks, "VaR", 132, xtitle="Aika", extra=exponent)
p3 = panel([(cvar_blue, BLUE), (cvar_red, RED), (cvar_green, GREEN)],
           [0.0010, 0.0199], cvar_ticks, "CVaR", 133)

chart = (
    alt.vconcat(p1, p2, p3, spacing=116, bounds="flush")
    .configure(padding={"left": 12, "top": 3, "right": 0, "bottom": 0}, background="white")
    .configure_view(stroke="black", strokeWidth=1.5)
)

chart.save("out.html", embed_options={"renderer": "svg", "actions": False})
